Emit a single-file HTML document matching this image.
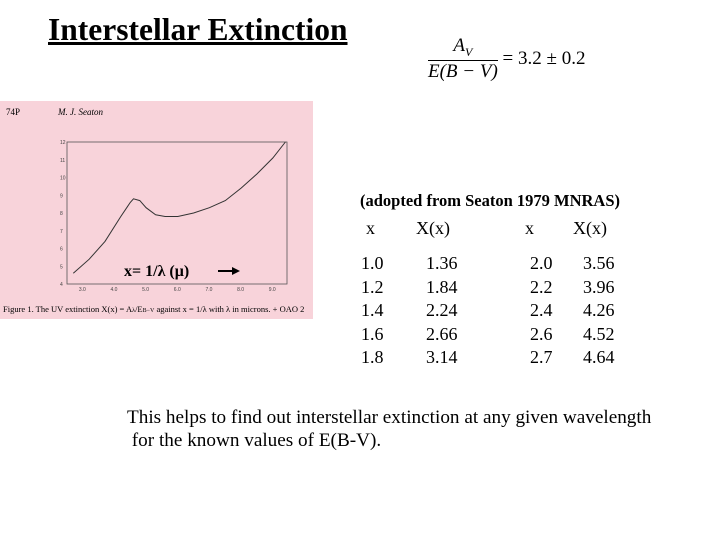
<!DOCTYPE html>
<html><head><style>
body{margin:0;width:720px;height:540px;background:#fff;position:relative;overflow:hidden;font-family:"Liberation Serif",serif;}
.a{position:absolute;white-space:nowrap;color:#000;}
.t{font-size:18px;}
</style></head><body>
<div class="a" style="left:48px;top:12px;font-size:31.5px;font-weight:bold;text-decoration:underline;">Interstellar Extinction</div>
<div class="a" style="left:428px;top:35px;font-size:19px;">
 <div style="display:inline-block;text-align:center;vertical-align:middle;">
  <div style="font-style:italic;">A<sub style="font-size:12px">V</sub></div>
  <div style="border-top:1px solid #000;font-style:italic;">E(B − V)</div>
 </div><span style="vertical-align:middle;"> = 3.2 ± 0.2</span>
</div>
<svg class="a" style="left:0;top:101px" width="313" height="218">
<rect width="313" height="218" fill="#f8d3da"/>
<text x="6" y="14" font-size="9" font-family="Liberation Serif">74P</text>
<text x="58" y="14" font-size="9" font-style="italic" font-family="Liberation Serif">M. J. Seaton</text>
<rect x="67" y="41" width="220" height="142" fill="none" stroke="#555" stroke-width="0.8"/>
<g id="ticks" font-size="5" font-family="Liberation Sans" fill="#444"></g>
<path id="curve" fill="none" stroke="#333" stroke-width="1"/>
<text x="124" y="175" font-size="16" font-weight="bold" font-family="Liberation Serif">x= 1/λ (μ)</text>
<line x1="218" y1="170" x2="232" y2="170" stroke="#000" stroke-width="2"/>
<polygon points="232,166 240,170 232,174" fill="#000"/>
<text x="3" y="211" font-size="8.5" font-family="Liberation Serif">Figure 1. The UV extinction X(x) = A<tspan font-size="6">λ</tspan>/E<tspan font-size="6">B−V</tspan> against x = 1/λ with λ in microns. + OAO 2</text>
</svg>
<div class="a" style="left:360px;top:191px;font-size:16.5px;font-weight:bold;">(adopted from Seaton 1979 MNRAS)</div>
<div class="a t" style="left:366px;top:218px;">x</div>
<div class="a t" style="left:416px;top:218px;">X(x)</div>
<div class="a t" style="left:525px;top:218px;">x</div>
<div class="a t" style="left:573px;top:218px;">X(x)</div>
<div id="tbl"></div>
<div class="a" style="left:127px;top:406px;font-size:19.2px;line-height:23px;">This helps to find out interstellar extinction at any given wavelength<br>&nbsp;for the known values of E(B-V).</div>
<script>
const xs1=["1.0","1.2","1.4","1.6","1.8"],Xs1=["1.36","1.84","2.24","2.66","3.14"];
const xs2=["2.0","2.2","2.4","2.6","2.7"],Xs2=["3.56","3.96","4.26","4.52","4.64"];
const curveX=[2.7,3.2,3.7,4.2,4.5,4.6,4.8,5.0,5.3,5.6,6.0,6.5,7.0,7.5,8.0,8.5,9.0,9.4];
const curveY=[4.6,5.4,6.4,7.8,8.6,8.8,8.7,8.3,7.9,7.8,7.8,8.0,8.3,8.7,9.4,10.2,11.1,12.0];
const xTicks=[3,4,5,6,7,8,9],yTicks=[4,5,6,7,8,9,10,11,12];
const sx=v=>67+(v-2.5)/(9.45-2.5)*220, sy=v=>183-(v-4)/8*142;
const tbl=document.getElementById('tbl');
function cell(txt,left,top,name){const d=document.createElement('div');d.className='a t';d.style.left=left+'px';d.style.top=top+'px';d.textContent=txt;


tbl.appendChild(d);}
for(let i=0;i<5;i++){const top=253+i*23.5;
cell(xs1[i],361,top,'table-x');cell(Xs1[i],426,top,'table-X');cell(xs2[i],530,top,'table-x');cell(Xs2[i],583,top,'table-X');}
document.getElementById('curve').setAttribute('d',curveX.map((v,i)=>(i?'L':'M')+sx(v).toFixed(1)+','+sy(curveY[i]).toFixed(1)).join(''));
const g=document.getElementById('ticks');const ns='http://www.w3.org/2000/svg';
xTicks.forEach(v=>{const t=document.createElementNS(ns,'text');t.setAttribute('x',sx(v)-4);t.setAttribute('y',190);t.textContent=v.toFixed(1);


g.appendChild(t);});
yTicks.forEach(v=>{const t=document.createElementNS(ns,'text');t.setAttribute('x',60);t.setAttribute('y',sy(v)+2);t.textContent=v;


g.appendChild(t);});
</script>
</body></html>
